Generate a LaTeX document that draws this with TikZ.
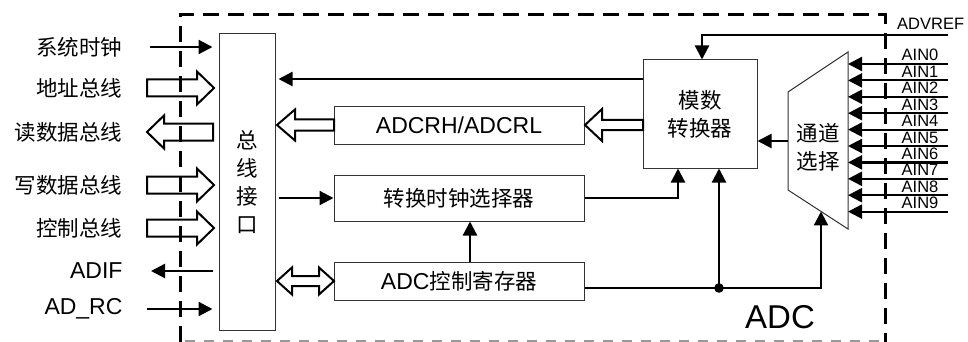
\documentclass[tikz,border=0pt]{standalone}
\usepackage{fontspec}
\setmainfont{Liberation Sans}
\newfontfamily\cjk{Noto Sans CJK SC}
\usetikzlibrary{arrows.meta,calc}
% tail x, tip x, y, body half, head half, head length (signed towards tip)
\newcommand{\hollowArrow}[6]{%
  \draw[hollow] ({#1},{#3-#4}) -- ({#2-(#6)},{#3-#4}) -- ({#2-(#6)},{#3-#5}) -- ({#2},{#3})
    -- ({#2-(#6)},{#3+#5}) -- ({#2-(#6)},{#3+#4}) -- ({#1},{#3+#4}) -- cycle;}
% left tip x, right tip x, y, body half, head half, head length
\newcommand{\hollowDouble}[6]{%
  \draw[hollow] ({#1},{#3}) -- ({#1+#6},{#3-#5}) -- ({#1+#6},{#3-#4}) -- ({#2-#6},{#3-#4})
    -- ({#2-#6},{#3-#5}) -- ({#2},{#3}) -- ({#2-#6},{#3+#5}) -- ({#2-#6},{#3+#4})
    -- ({#1+#6},{#3+#4}) -- ({#1+#6},{#3+#5}) -- cycle;}
\tikzset{
  conn/.style={line width=2.2pt, -{Triangle[length=14pt,width=14pt]}},
  blk/.style={draw=black!80, line width=1pt, fill=white, inner sep=0pt},
  hollow/.style={draw=black, line width=2pt, fill=white, line join=miter},
  cn/.style={font=\cjk\fontsize{21.5}{28}\selectfont},
  lt/.style={font=\fontsize{23}{28}\selectfont},
  ain/.style={font=\fontsize{16.5}{18}\selectfont, inner sep=0pt},
  border/.style={line width=3pt, dash pattern=on 16pt off 9pt},
}
\begin{document}
\begin{tikzpicture}[x=1pt,y=-1pt]
\useasboundingbox (0,0) rectangle (968,342);

% blocks
\node[blk, minimum width=56pt, minimum height=296pt, cn, align=center] (bus) at (247,182) {总\\线\\接\\口};
\node[blk, minimum width=250pt, minimum height=37pt, lt] (adcrh) at (459,125.5) {ADCRH/ADCRL};
\node[blk, minimum width=250pt, minimum height=46pt, cn] (clk) at (459,198) {转换时钟选择器};
\node[blk, minimum width=250pt, minimum height=38pt] (ctrl) at (459,281)
  {{\fontsize{23}{28}\selectfont ADC}{\cjk\fontsize{21.5}{28}\selectfont 控制寄存器}};
\node[blk, minimum width=114pt, minimum height=108pt, cn, align=center] (adc) at (700,114) {模数\\转换器};

% multiplexer
\coordinate (m1) at (788,92);
\coordinate (m2) at (848,52);
\coordinate (m3) at (848,229);
\coordinate (m4) at (788,190);
\draw[blk] (m1) -- (m2) -- (m3) -- (m4) -- cycle;
\node[cn, align=center] (mux) at (818,147) {通道\\选择};

% left labels
\node[cn, anchor=east] (l1) at (126,47) {系统时钟};
\node[cn, anchor=east] (l2) at (126,88) {地址总线};
\node[cn, anchor=east] (l3) at (126,132) {读数据总线};
\node[cn, anchor=east] (l4) at (126,185) {写数据总线};
\node[cn, anchor=east] (l5) at (126,228) {控制总线};
\node[lt, anchor=east] (l6) at (126,271) {ADIF};
\node[lt, anchor=east] (l7) at (126,309) {AD\_RC};

% left connectors
\draw[conn, shorten >=6pt] ([xshift=24pt]l1.east) -- (bus.west |- l1.east);
\draw[conn, shorten <=6pt] (bus.west |- l6.east) -- ([xshift=25pt]l6.east);
\draw[conn, shorten >=6pt] ([xshift=21pt]l7.east) -- (bus.west |- l7.east);
\hollowArrow{147}{214}{88}{8.5}{16.5}{17}
\hollowArrow{213}{147}{132}{8.5}{16.5}{-17}
\hollowArrow{147}{214}{185}{8.5}{16.5}{17}
\hollowArrow{147}{214}{228}{8.5}{16.5}{17}

% inner connectors
\coordinate (r79) at (0,79);
\draw[conn, shorten >=3pt] (adc.west |- r79) -- (bus.east |- r79);
\hollowArrow{334}{277}{125}{5.5}{15.5}{-18}
\hollowArrow{643}{585}{125}{5}{16}{-17}
\hollowDouble{277}{334}{281}{5}{13.5}{15}
\draw[conn, shorten <=3pt] (bus.east |- clk.west) -- (clk.west);
\draw[conn] ([xshift=11pt]ctrl.north) -- ([xshift=11pt]clk.south);
\draw[conn] (clk.east) -| ([xshift=-22pt]adc.south);
\coordinate (c8) at ([yshift=-7pt]ctrl.east);
\coordinate (mb) at ($(m4)!0.55!(m3)$);
\draw[conn] (c8) -| (mb);
\coordinate (adcS2) at ([xshift=19pt]adc.south);
\coordinate (j) at (adcS2 |- c8);
\draw[conn] (j) -- (adcS2);
\fill (j) circle (4.8pt);
\coordinate (mx) at (788,141);
\draw[conn] (mx) -- (adc.east |- mx);

% reference input
\node[ain, anchor=base west] (vref) at (897,30) {ADVREF};
\coordinate (vrefS) at (948,35);
\draw[conn] (vrefS) -| ([xshift=2pt]adc.north);

% analog inputs
\foreach \i in {0,...,9} {
  \pgfmathsetmacro\yy{64+16.4*\i}
  \node[ain, anchor=base] (ain\i) at (920,\yy-3) {AIN\i};
  \coordinate (ainS\i) at (948,\yy);
  \draw[conn] (ainS\i) -- (m2 |- ainS\i);
}

% ADC label
\node[font=\fontsize{33}{36}\selectfont, anchor=base, inner sep=0pt] (adclbl) at (780,328) {ADC};

% dashed border
\draw[border] (180,342) -- (180,15) -- (885,15) -- (885,342);
\draw[line width=2pt, draw=black!40, dash pattern=on 10pt off 9pt] (185,341) -- (880,341);
\end{tikzpicture}
\end{document}
